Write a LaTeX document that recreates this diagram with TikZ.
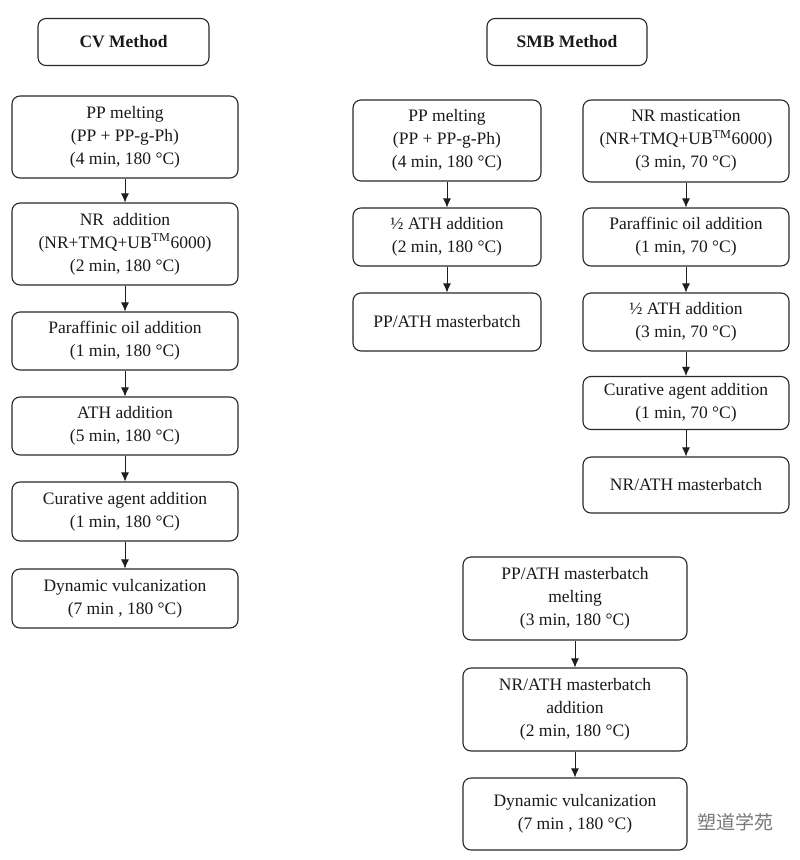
\documentclass[tikz,border=0pt]{standalone}
\usepackage{fontspec}
\setmainfont{Liberation Serif}
\newfontfamily\cjk{Noto Sans CJK SC}
\usetikzlibrary{arrows.meta}

\begin{document}
\begin{tikzpicture}[x=1pt,y=-1pt,
		stepbox/.style={draw={rgb,255:red,40; green,40; blue,40}, line width=1.1pt, rounded corners=8pt, align=center, inner sep=0pt},
		titlebox/.style={stepbox, font=\fontsize{17.5pt}{23pt}\selectfont\bfseries},
		flow/.style={draw={rgb,255:red,30; green,30; blue,30}, line width=0.9pt, -{Latex[length=9pt,width=8pt]}}]
		\tikzstyle{every node}=[font=\fontsize{17.5pt}{23pt}\selectfont, text={rgb,255:red,25; green,25; blue,25}]
		\useasboundingbox (0,0) rectangle (800,860);
		
		% CV method
		\node[titlebox, minimum width=171pt, minimum height=47pt] (cvtitle) at (123.5,42) {CV Method};
		\node[stepbox, minimum width=226pt, minimum height=82pt] (cvmelt) at (125,137) {PP melting\\(PP + PP-g-Ph)\\(4 min, 180~°C)};
		\node[stepbox, minimum width=226pt, minimum height=82pt] (cvnr) at (125,244) {NR\ \ addition\\(NR+TMQ+UB\textsuperscript{TM}6000)\\(2 min, 180~°C)};
		\node[stepbox, minimum width=226pt, minimum height=58pt] (cvoil) at (125,341) {Paraffinic oil addition\\(1 min, 180~°C)};
		\node[stepbox, minimum width=226pt, minimum height=58pt] (cvath) at (125,426) {ATH addition\\(5 min, 180~°C)};
		\node[stepbox, minimum width=226pt, minimum height=59pt] (cvcure) at (125,511.5) {Curative agent addition\\(1 min, 180~°C)};
		\node[stepbox, minimum width=226pt, minimum height=59pt] (cvdyn) at (125,598.5) {Dynamic vulcanization\\(7 min , 180~°C)};
		
		\draw[flow] (cvmelt) -- (cvnr);
		\draw[flow] (cvnr) -- (cvoil);
		\draw[flow] (cvoil) -- (cvath);
		\draw[flow] (cvath) -- (cvcure);
		\draw[flow] (cvcure) -- (cvdyn);
		
		% SMB method, PP side
		\node[titlebox, minimum width=160pt, minimum height=47pt] (smbtitle) at (567,42) {SMB Method};
		\node[stepbox, minimum width=188pt, minimum height=81pt] (ppmelt) at (447,140.5) {PP melting\\(PP + PP-g-Ph)\\(4 min, 180~°C)};
		\node[stepbox, minimum width=188pt, minimum height=58pt] (ppath) at (447,237) {½ ATH addition\\(2 min, 180~°C)};
		\node[stepbox, minimum width=188pt, minimum height=58pt] (ppmb) at (447,322) {PP/ATH masterbatch};
		
		\draw[flow] (ppmelt) -- (ppath);
		\draw[flow] (ppath) -- (ppmb);
		
		% SMB method, NR side
		\node[stepbox, minimum width=206pt, minimum height=82pt] (nrmast) at (686,141) {NR mastication\\(NR+TMQ+UB\textsuperscript{TM}6000)\\(3 min, 70~°C)};
		\node[stepbox, minimum width=206pt, minimum height=58pt] (nroil) at (686,237) {Paraffinic oil addition\\(1 min, 70~°C)};
		\node[stepbox, minimum width=206pt, minimum height=58pt] (nrath) at (686,322) {½ ATH addition\\(3 min, 70~°C)};
		\node[stepbox, minimum width=206pt, minimum height=53pt] (nrcure) at (686,403) {Curative agent addition\\(1 min, 70~°C)};
		\node[stepbox, minimum width=206pt, minimum height=56pt] (nrmb) at (686,485) {NR/ATH masterbatch};
		
		\draw[flow] (nrmast) -- (nroil);
		\draw[flow] (nroil) -- (nrath);
		\draw[flow] (nrath) -- (nrcure);
		\draw[flow] (nrcure) -- (nrmb);
		
		% SMB method, blending
		\node[stepbox, minimum width=224pt, minimum height=83pt] (blmelt) at (575,598.5) {PP/ATH masterbatch\\melting\\(3 min, 180~°C)};
		\node[stepbox, minimum width=224pt, minimum height=83pt] (bladd) at (575,709.5) {NR/ATH masterbatch\\addition\\(2 min, 180~°C)};
		\node[stepbox, minimum width=224pt, minimum height=72pt] (bldyn) at (575,814) {Dynamic vulcanization\\(7 min , 180~°C)};
		
		\draw[flow] (blmelt) -- (bladd);
		\draw[flow] (bladd) -- (bldyn);
		
		% watermark
		\node[font=\cjk\fontsize{19pt}{22pt}\selectfont, text={rgb,255:red,120; green,120; blue,120}] (mark) at (735,822) {塑道学苑};
		
	\end{tikzpicture}
\end{document}
